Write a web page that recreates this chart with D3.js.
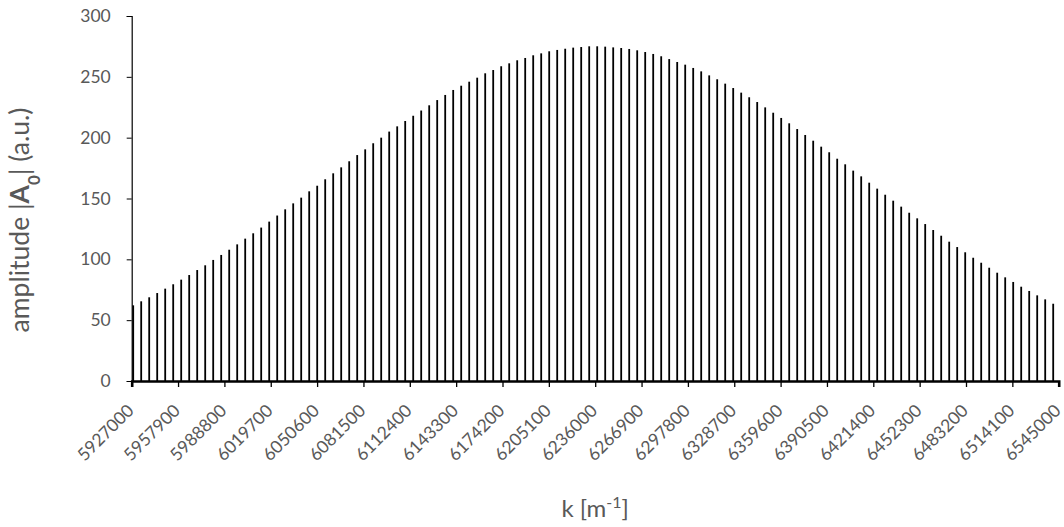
<!DOCTYPE html>
<html lang="en">
<head>
    <meta charset="UTF-8">
    <title>Amplitude spectrum</title>
    <script src="https://d3js.org/d3.v7.min.js"></script>
    <style>
        body { margin: 0; background: #fff; }
        .tick-label { font: 17.5px Lato, "Open Sans", sans-serif; fill: #595959; }
        .axis-title { font: 24px Lato, "Open Sans", sans-serif; fill: #595959; }
    </style>
</head>
<body>
    <script>
        // wavenumber of every bar (m^-1)
        var kValues = [
            5928000, 5933333, 5938667, 5944000, 5949333, 5954667, 5960000, 5965333, 5970667,
            5976000, 5981333, 5986667, 5992000, 5997333, 6002667, 6008000, 6013333, 6018667,
            6024000, 6029333, 6034667, 6040000, 6045333, 6050667, 6056000, 6061333, 6066667,
            6072000, 6077333, 6082667, 6088000, 6093333, 6098667, 6104000, 6109333, 6114667,
            6120000, 6125333, 6130667, 6136000, 6141333, 6146667, 6152000, 6157333, 6162667,
            6168000, 6173333, 6178667, 6184000, 6189333, 6194667, 6200000, 6205333, 6210667,
            6216000, 6221333, 6226667, 6232000, 6237333, 6242667, 6248000, 6253333, 6258667,
            6264000, 6269333, 6274667, 6280000, 6285333, 6290667, 6296000, 6301333, 6306667,
            6312000, 6317333, 6322667, 6328000, 6333333, 6338667, 6344000, 6349333, 6354667,
            6360000, 6365333, 6370667, 6376000, 6381333, 6386667, 6392000, 6397333, 6402667,
            6408000, 6413333, 6418667, 6424000, 6429333, 6434667, 6440000, 6445333, 6450667,
            6456000, 6461333, 6466667, 6472000, 6477333, 6482667, 6488000, 6493333, 6498667,
            6504000, 6509333, 6514667, 6520000, 6525333, 6530667, 6536000, 6541333
        ];

        // amplitude |A0| of every bar (a.u.)
        var amplitudes = [
            62.2, 65.5, 68.8, 72.3, 75.9, 79.5, 83.3, 87.1, 91.2, 95.1,
            99.5, 103.6, 107.9, 112.3, 117.0, 121.4, 126.1, 131.0, 136.0, 141.1,
            146.0, 150.7, 155.9, 160.5, 165.8, 170.7, 175.6, 180.6, 185.7, 190.4,
            195.4, 200.0, 205.0, 209.3, 213.7, 218.0, 222.3, 226.6, 230.9, 235.1,
            239.2, 242.7, 246.0, 249.3, 252.9, 255.6, 258.7, 261.1, 263.6, 265.5,
            267.7, 269.3, 271.0, 272.1, 273.1, 274.0, 274.5, 275.1, 275.1, 274.8,
            274.2, 273.7, 272.9, 271.8, 270.4, 268.8, 266.9, 264.6, 262.2, 260.0,
            257.3, 254.5, 251.2, 248.0, 244.4, 240.8, 237.0, 233.2, 229.3, 224.9,
            220.5, 216.2, 211.8, 207.1, 202.2, 197.5, 192.6, 188.0, 182.7, 178.1,
            172.9, 168.2, 163.0, 158.1, 153.1, 148.2, 143.3, 138.3, 133.7, 129.0,
            124.1, 119.4, 114.5, 110.1, 105.8, 101.3, 97.2, 93.1, 89.0, 85.2,
            81.4, 77.5, 74.0, 70.4, 67.1, 63.5
        ];

        var xTicks = [
            5927000, 5957900, 5988800, 6019700, 6050600, 6081500, 6112400,
            6143300, 6174200, 6205100, 6236000, 6266900, 6297800, 6328700,
            6359600, 6390500, 6421400, 6452300, 6483200, 6514100, 6545000
        ];
        var yTicks = [0, 50, 100, 150, 200, 250, 300];

        var W = 1064, H = 527;
        var margin = {top: 16, right: 5.3, bottom: 146, left: 131.7};

        var svg = d3.select("body").append("svg")
            .attr("width", W)
            .attr("height", H);

        var x = d3.scaleLinear()
            .domain([xTicks[0], xTicks[xTicks.length - 1]])
            .range([margin.left, W - margin.right]);

        var y = d3.scaleLinear()
            .domain([0, 300])
            .range([H - margin.bottom, margin.top]);

        var data = kValues.map(function(k, i) { return {k: k, a: amplitudes[i]}; });

        // bars
        svg.append("g").selectAll("rect")
            .data(data)
            .enter().append("rect")
            .attr("x", function(d) { return x(d.k) - 0.9; })
            .attr("width", 1.8)
            .attr("y", function(d) { return y(d.a); })
            .attr("height", function(d) { return y(0) - y(d.a); })
            .attr("fill", "#000");

        // y axis
        var yAxis = svg.append("g")
            .attr("transform", "translate(" + margin.left + ",0)")
            .call(d3.axisLeft(y).tickValues(yTicks).tickSize(5).tickPadding(16));
        yAxis.select(".domain").attr("stroke", "#000").attr("stroke-width", 1.2);
        yAxis.selectAll(".tick line").attr("stroke", "#000");
        yAxis.selectAll(".tick text").attr("class", "tick-label").attr("fill", null);

        // x axis, labels turned 45 degrees
        var xAxis = svg.append("g")
            .attr("transform", "translate(0," + y(0) + ")")
            .call(d3.axisBottom(x).tickValues(xTicks).tickSize(6).tickFormat(d3.format("d")));
        xAxis.select(".domain").attr("stroke", "#000").attr("stroke-width", 2.6);
        xAxis.selectAll(".tick line").attr("stroke", "#000").attr("stroke-width", 1.3);
        xAxis.selectAll(".tick text")
            .attr("class", "tick-label")
            .attr("fill", null)
            .attr("text-anchor", "end")
            .attr("dy", "0.3em")
            .attr("y", 0)
            .attr("transform", "translate(-1,27) rotate(-45)");

        // axis titles
        var yTitle = svg.append("text")
            .attr("class", "axis-title")
            .style("font-size", "26.5px")
            .attr("text-anchor", "middle")
            .attr("transform", "translate(29,220) rotate(-90)");
        yTitle.append("tspan").text("amplitude |");
        yTitle.append("tspan").attr("font-weight", "bold").text("A");
        yTitle.append("tspan").attr("font-weight", "bold").attr("font-size", "17px")
            .attr("baseline-shift", "sub").text("0");
        yTitle.append("tspan").text("| (a.u.)");

        var xTitle = svg.append("text")
            .attr("class", "axis-title")
            .attr("text-anchor", "middle")
            .attr("x", (x.range()[0] + x.range()[1]) / 2)
            .attr("y", 517);
        xTitle.append("tspan").text("k [m");
        xTitle.append("tspan").attr("font-size", "16px").attr("baseline-shift", "super").text("-1");
        xTitle.append("tspan").text("]");
    </script>
</body>
</html>
